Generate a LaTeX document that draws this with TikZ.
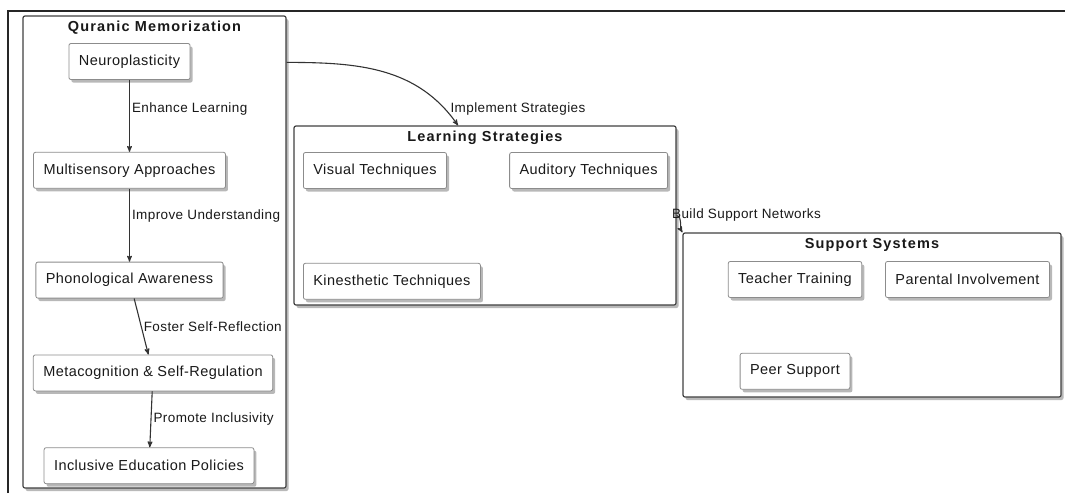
\documentclass[tikz,border=0pt]{standalone}
\usepackage{fontspec}
\setmainfont{Liberation Sans}[LetterSpace=3]
\usepackage{tikz}
\usetikzlibrary{arrows,shapes,positioning,calc,fit,shadows}
\tikzset{
    item/.style={
        rectangle,
        rounded corners=2pt,
        draw=black!45,
        line width=0.8pt,
        fill=white,
        minimum height=36pt,
        inner xsep=10pt,
        text=black!90,
        font=\fontsize{14.5}{17}\selectfont,
        drop shadow={shadow xshift=2.5pt, shadow yshift=-3pt, opacity=0.5, fill=black!55}
    },
    cluster/.style={
        rectangle,
        rounded corners=2pt,
        draw=black!75,
        line width=1.2pt,
        fill=white,
        inner sep=0pt,
        drop shadow={shadow xshift=2.5pt, shadow yshift=-3pt, opacity=0.5, fill=black!55}
    },
    cluster-title/.style={
        text=black!90,
        font=\fontsize{14.5}{17}\selectfont\bfseries\addfontfeature{LetterSpace=8}
    },
    edge-label/.style={
        text=black!90,
        inner sep=2pt,
        font=\fontsize{13.5}{16}\selectfont
    },
    every edge/.style={
        draw,
        ->,>=stealth',
        line width=1.1pt,
        black!80
    },
}

\begin{document}
\begin{tikzpicture}[x=1pt,y=-1pt]
       \useasboundingbox (0,0) rectangle (1065,493);
       \draw[line width=1.5pt, black!85] (8,493) -- (8,11) -- (1065,11);

       % clusters
       \node[cluster, fit={(23,16) (286,488)}] (quran) {};
       \node[cluster-title, below=2pt of quran.north] (quran-title) {Quranic Memorization};
       \node[cluster, fit={(294,126) (676,305)}] (learn) {};
       \node[cluster-title, below=2pt of learn.north] (learn-title) {Learning Strategies};
       \node[cluster, fit={(683,233) (1061,397)}] (support) {};
       \node[cluster-title, below=2pt of support.north] (support-title) {Support Systems};

       % quranic memorization
       \node[item] at (129.5,61.5) (neuro) {Neuroplasticity};
       \node[item, below=72pt of neuro] (multi) {Multisensory Approaches};
       \node[item, below=73pt of multi] (phono) {Phonological Awareness};
       \node[item, below=56pt of phono, xshift=23.5pt] (meta) {Metacognition \& Self-Regulation};
       \node[item, below=56pt of meta, xshift=-4pt] (incl) {Inclusive Education Policies};

       % learning strategies
       \node[item, anchor=west] at (303,170.5) (visual) {Visual Techniques};
       \node[item, anchor=east] at (668,170.5) (auditory) {Auditory Techniques};
       \node[item, below=74pt of visual.south west, anchor=north west] (kines) {Kinesthetic Techniques};

       % support systems
       \node[item] at (795,279.5) (teacher) {Teacher Training};
       \node[item] at (967.5,279.5) (parental) {Parental Involvement};
       \node[item, below=55pt of teacher] (peer) {Peer Support};

       \draw (neuro) edge node[edge-label, right, pos=0.4] {Enhance Learning} (multi);
       \draw (multi) edge node[edge-label, right, pos=0.38] {Improve Understanding} (phono);
       \draw (phono) edge node[edge-label, right, pos=0.5] {Foster Self-Reflection} (meta);
       \draw (meta) edge node[edge-label, right, pos=0.5] {Promote Inclusivity} (incl);
       \draw ([yshift=-47pt]quran.north east) edge[out=0, in=125]
           node[edge-label, at end, anchor=south west, xshift=-10pt, yshift=8pt] {Implement Strategies}
           ([xshift=-27pt]learn.north);
       \draw (learn.east) edge[out=-20, in=120]
           node[edge-label, at start, anchor=west, xshift=-7pt] {Build Support Networks}
           (support.north west);
\end{tikzpicture}
\end{document}
